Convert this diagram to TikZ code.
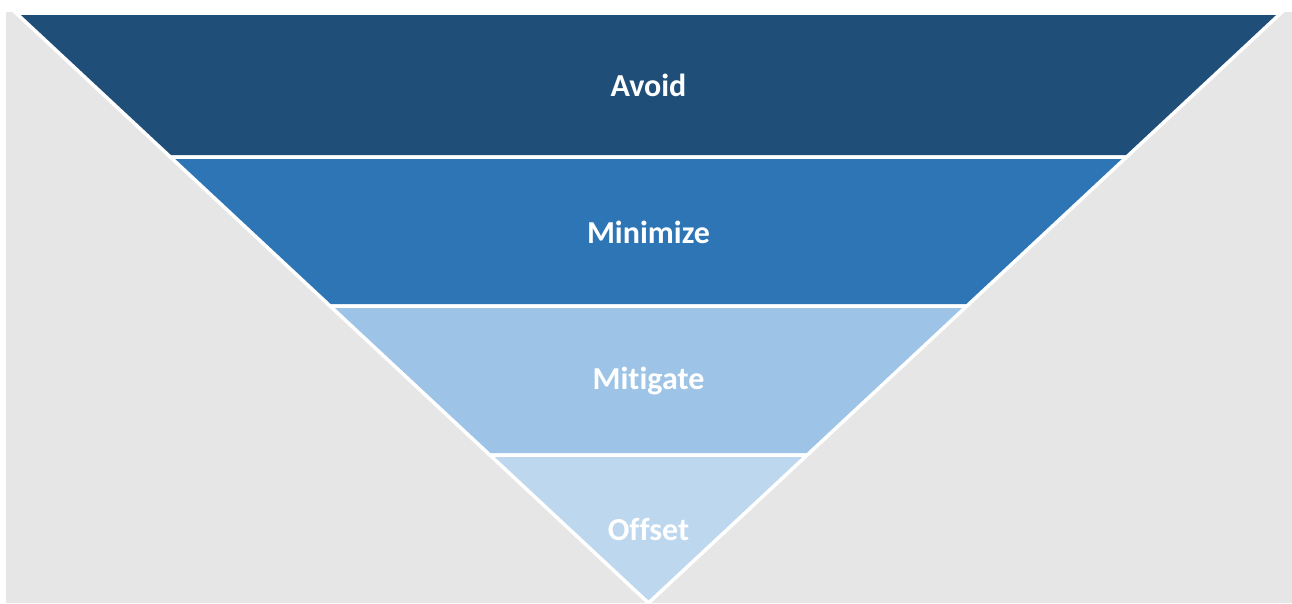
\documentclass[tikz,border=0pt]{standalone}
\usepackage{fontspec}
\setmainfont[Ligatures={NoCommon,NoRequired,NoContextual,NoRare}]{Carlito}
\usetikzlibrary{calc}
\definecolor{bgGray}{HTML}{E6E6E6}
\definecolor{avoidC}{HTML}{1F4E79}
\definecolor{minimizeC}{HTML}{2E75B6}
\definecolor{mitigateC}{HTML}{9DC3E6}
\definecolor{offsetC}{HTML}{BDD7EE}
\tikzset{
  band/.style={draw=white, line width=3.5pt, line join=miter},
  label/.style={text=white, font=\bfseries\fontsize{32}{37}\selectfont}
}
\begin{document}
\begin{tikzpicture}[x=1pt,y=-1pt]
\useasboundingbox (0,0) rectangle (1292,603);
\fill[bgGray] (6,12) rectangle (1292,603);
% funnel corners
\coordinate (TL) at (16,13);
\coordinate (TR) at (1281,13);
\coordinate (AP) at (648.5,603);
% band boundaries along the sides
\foreach \i/\t in {0/0,1/0.2441,2/0.4966,3/0.7492}{
  \coordinate (L\i) at ($(TL)!\t!(AP)$);
  \coordinate (R\i) at ($(TR)!\t!(AP)$);
}
\filldraw[band, fill=avoidC] (L0) -- (R0) -- (R1) -- (L1) -- cycle;
\filldraw[band, fill=minimizeC] (L1) -- (R1) -- (R2) -- (L2) -- cycle;
\filldraw[band, fill=mitigateC] (L2) -- (R2) -- (R3) -- (L3) -- cycle;
\filldraw[band, fill=offsetC] (L3) -- (R3) -- (AP) -- cycle;
\node[label] (avoid) at (648.5,85) {Avoid};
\node[label] (minimize) at (648.5,232) {Minimize};
\node[label] (mitigate) at (648.5,381) {Mitigate};
\node[label] (offset) at (648.5,529) {Offset};
\end{tikzpicture}
\end{document}
